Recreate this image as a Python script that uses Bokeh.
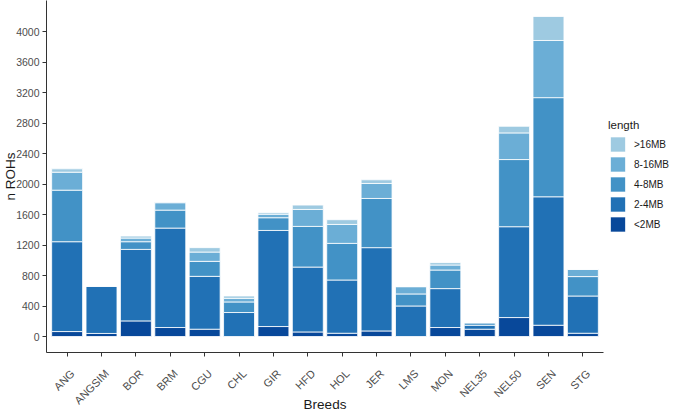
import math
from bokeh.plotting import figure
from bokeh.models import (Range1d, FixedTicker, Legend, LegendItem,
                          ColumnDataSource, LinearAxis)
from bokeh.embed import file_html
from bokeh.resources import INLINE

breeds = ["ANG", "ANGSIM", "BOR", "BRM", "CGU", "CHL", "GIR", "HFD", "HOL", "JER",
          "LMS", "MON", "NEL35", "NEL50", "SEN", "STG"]
lt2mb   = [65, 40, 205, 118, 96, 0, 131, 60, 43, 73, 0, 118, 96, 249, 148, 43]
mb2_4   = [1180, 623, 939, 1306, 694, 315, 1262, 852, 699, 1094, 401, 511, 52, 1193, 1687, 489]
mb4_8   = [677, 0, 101, 236, 197, 139, 167, 534, 481, 646, 158, 244, 30, 882, 1302, 255]
mb8_16  = [236, 0, 48, 97, 122, 48, 46, 223, 249, 197, 96, 66, 6, 350, 751, 95]
gt16mb  = [44, 0, 26, 8, 58, 30, 20, 57, 62, 48, 0, 31, 0, 87, 315, 0]

classes = ["<2MB", "2-4MB", "4-8MB", "8-16MB", ">16MB"]
colors = ["#08489A", "#2171B5", "#4292C6", "#6BAED6", "#9ECAE1"]
y_ticks = [0, 400, 800, 1200, 1600, 2000, 2400, 2800, 3200, 3600, 4000]
y_low, y_high = -210, 4413
x_pad = 0.6

n = len(breeds)
pos = list(range(n))                       # position of each breed on the x scale
keys = ["c0", "c1", "c2", "c3", "c4"]
src = ColumnDataSource(dict(x=pos, breed=breeds, c0=lt2mb, c1=mb2_4, c2=mb4_8,
                            c3=mb8_16, c4=gt16mb))

FONT = "Liberation Sans"

p = figure(frame_width=557, frame_height=352, output_backend="svg", toolbar_location=None,
           x_range=Range1d(-x_pad, n - 1 + x_pad), y_range=Range1d(y_low, y_high),
           x_axis_location=None,
           min_border_left=45, min_border_top=0, min_border_right=81, min_border_bottom=0)

rs = p.vbar_stack(keys, x="x", width=0.9, source=src, color=colors,
                  line_color="white", line_width=0.8)

p.xgrid.visible = False
p.ygrid.visible = False
p.outline_line_color = None

# tick axis (ticks at the bar centres, no text)
tick_axis = LinearAxis(ticker=FixedTicker(ticks=pos),
                       major_label_overrides={v: " " for v in pos},
                       major_label_text_font_size="1px", major_label_text_color=None,
                       major_label_standoff=0)
p.add_layout(tick_axis, "below")

# label axis: rotated breed names centred under each bar (ggplot style)
lab_pos = [v + 0.15625 for v in pos]
lab_axis = LinearAxis(ticker=FixedTicker(ticks=lab_pos),
                      major_label_overrides={v: b for v, b in zip(lab_pos, breeds)},
                      axis_line_color=None, major_tick_line_color=None,
                      major_label_orientation=math.pi / 4, major_label_standoff=15,
                      major_label_text_font_size="11px",
                      axis_label="Breeds", axis_label_standoff=-17)
p.add_layout(lab_axis, "below")

p.yaxis.ticker = FixedTicker(ticks=y_ticks)
for ax in (tick_axis, lab_axis, p.yaxis[0]):
    ax.minor_tick_line_color = None
    ax.major_tick_in = 0
    ax.major_label_text_font = FONT
    ax.axis_label_text_font = FONT
    ax.axis_label_text_font_size = "13.5px"
    ax.axis_label_text_font_style = "normal"
    ax.axis_label_text_color = "#1A1A1A"
for ax in (tick_axis, p.yaxis[0]):
    ax.axis_line_color = "#333333"
    ax.major_tick_line_color = "#333333"
    ax.major_tick_out = 4
lab_axis.major_tick_out = 0
lab_axis.major_label_text_color = "#4D4D4D"
p.yaxis.major_label_text_color = "#4D4D4D"
p.yaxis.major_label_text_font_size = "10.5px"
p.yaxis.axis_label = "n ROHs"
p.yaxis.major_label_standoff = 3
p.yaxis.axis_label_standoff = -5

items = [LegendItem(label=classes[i], renderers=[rs[i]]) for i in range(4, -1, -1)]
legend = Legend(items=items, title="length", location="center_left",
                title_text_font=FONT, title_text_font_size="11.5px", title_text_font_style="normal",
                title_text_color="#1A1A1A", title_standoff=4,
                label_text_font=FONT, label_text_font_size="10px", label_text_color="#1A1A1A",
                glyph_width=19, glyph_height=19, spacing=1, padding=5, margin=5,
                label_standoff=7, border_line_color=None, background_fill_alpha=0,
                label_height=19)
p.add_layout(legend, "right")

open("out.html", "w").write(file_html(p, INLINE))
